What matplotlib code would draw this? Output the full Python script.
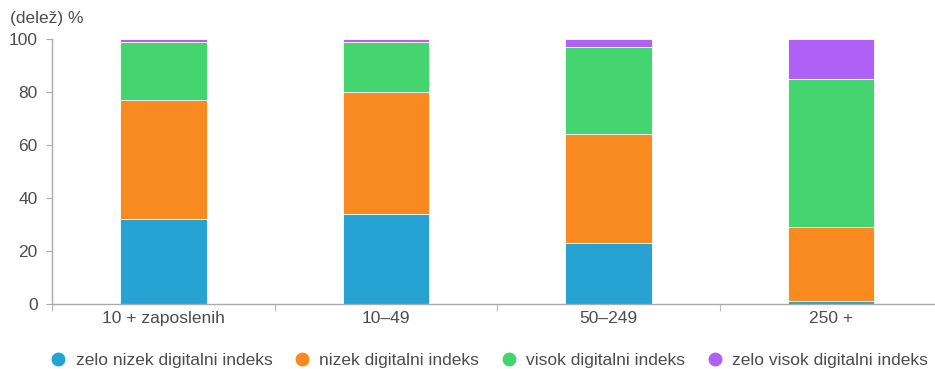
import matplotlib
matplotlib.use("Agg")
import matplotlib.pyplot as plt
from matplotlib.lines import Line2D
import numpy as np

categories = ["10 + zaposlenih", "10–49", "50–249", "250 +"]
series_names = ["zelo nizek digitalni indeks", "nizek digitalni indeks",
                "visok digitalni indeks", "zelo visok digitalni indeks"]
zelo_nizek = [32, 34, 23, 1]
nizek = [45, 46, 41, 28]
visok = [22, 19, 33, 56]
zelo_visok = [1, 1, 3, 15]
colors = ["#26A3D3", "#F98A20", "#45D570", "#AF61F5"]
yticks = [0, 20, 40, 60, 80, 100]

plt.rcParams['font.family'] = ['Liberation Sans', 'DejaVu Sans']
FS = 12.5
TXT = '#4d4d4d'

fig = plt.figure(figsize=(9.35, 3.69), dpi=100)
W, H = 935, 369
left, right = 52.25, 942.25
bottom, top = 304, 39
ax = fig.add_axes([left / W, (H - bottom) / H, (right - left) / W, (bottom - top) / H])

x = np.arange(len(categories))
base = np.zeros(len(categories))
for vals, c in zip([zelo_nizek, nizek, visok, zelo_visok], colors):
    ax.bar(x, vals, bottom=base, width=0.39, color=c, edgecolor='white', linewidth=0.6)
    base += np.array(vals)

ax.set_xlim(-0.5, len(categories) - 0.5)
ax.set_ylim(0, 100)
ax.set_yticks(yticks)
ax.set_yticklabels([str(v) for v in yticks], fontsize=FS, color=TXT)
ax.set_xticks(x)
ax.set_xticklabels(categories, fontsize=FS, color=TXT)
ax.set_xticks(np.arange(-0.5, len(categories), 1.0), minor=True)
ax.tick_params(axis='x', which='major', length=0, pad=5)
ax.tick_params(axis='x', which='minor', length=5, color='#bbbbbb', width=0.8)
ax.tick_params(axis='y', length=4.5, color='#aaaaaa', width=0.8, pad=6)

for s in ['top', 'right']:
    ax.spines[s].set_visible(False)
for s in ['left', 'bottom']:
    ax.spines[s].set_color('#aaaaaa')
    ax.spines[s].set_linewidth(1.0)

fig.text(10 / W, (H - 19) / H, "(delež) %", fontsize=FS, color=TXT, va='center', ha='left')

handles = [Line2D([0], [0], marker='o', linestyle='none', markersize=9,
                  markerfacecolor=c, markeredgecolor=c) for c in colors]
leg = fig.legend(handles, series_names, loc='center', bbox_to_anchor=(490 / W, (H - 360) / H),
                 ncol=4, frameon=False, fontsize=FS, handletextpad=0.65, columnspacing=1.35,
                 handlelength=0.7, borderpad=0)
for t in leg.get_texts():
    t.set_color(TXT)

fig.savefig("out.png", dpi=100)
